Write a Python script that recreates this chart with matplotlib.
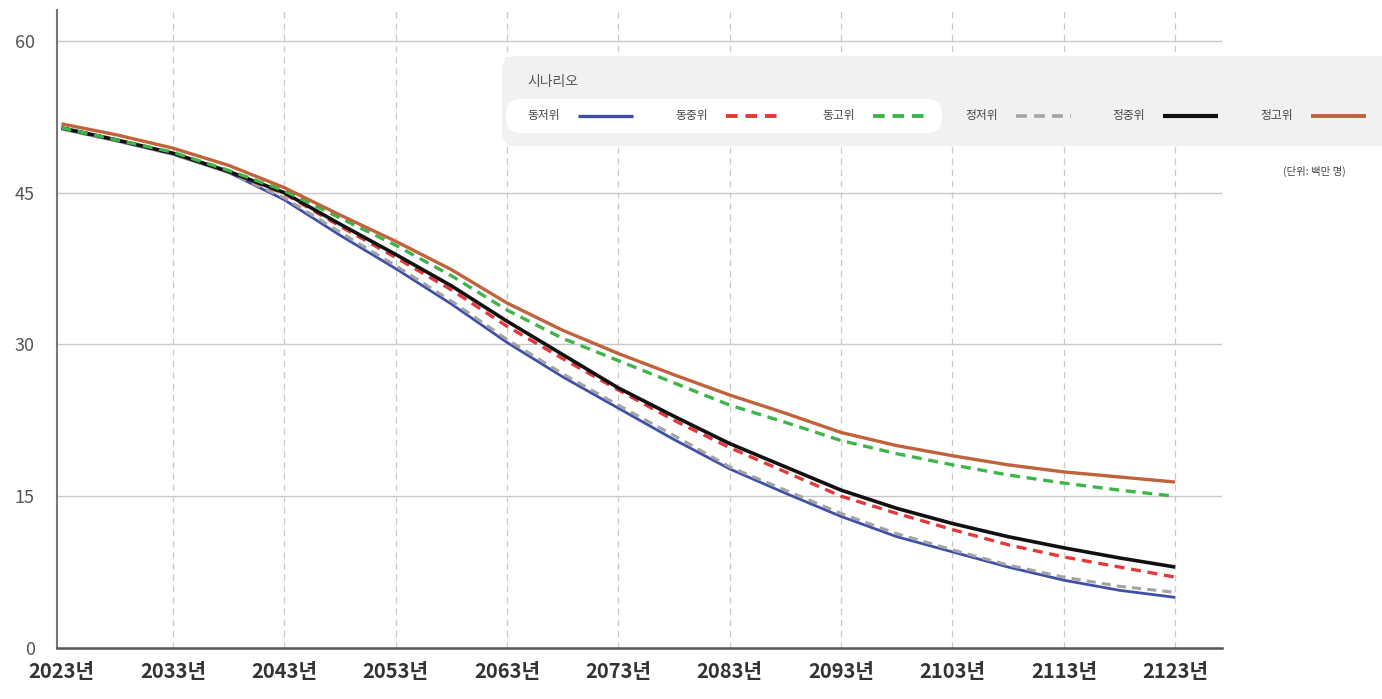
import numpy as np
import matplotlib
matplotlib.use("Agg")
import matplotlib.pyplot as plt
from matplotlib.patches import FancyBboxPatch
from matplotlib.lines import Line2D

plt.rcParams['font.family'] = ['Noto Sans CJK KR', 'DejaVu Sans']

# 5-year points, values in millions of people
years = [2023, 2028, 2033, 2038, 2043, 2048, 2053, 2058, 2063, 2068, 2073,
         2078, 2083, 2088, 2093, 2098, 2103, 2108, 2113, 2118, 2123]
dong_low = [51.3, 50.1, 48.8, 47.0, 44.3, 40.8, 37.5, 34.0, 30.2, 26.8, 23.7,
            20.6, 17.7, 15.3, 13.0, 11.0, 9.5, 8.0, 6.7, 5.7, 5.0]
dong_mid = [51.4, 50.2, 48.9, 47.1, 44.9, 41.7, 38.6, 35.4, 31.8, 28.6, 25.5,
            22.5, 19.8, 17.4, 15.0, 13.3, 11.7, 10.2, 9.0, 8.0, 7.0]
dong_high = [51.4, 50.2, 49.0, 47.2, 45.2, 42.5, 39.8, 36.8, 33.4, 30.6, 28.4,
             26.2, 24.0, 22.3, 20.5, 19.2, 18.1, 17.1, 16.3, 15.6, 15.0]
jung_low = [51.3, 50.1, 48.8, 47.0, 44.5, 41.1, 37.8, 34.3, 30.5, 27.1, 24.0,
            21.0, 17.9, 15.6, 13.3, 11.3, 9.7, 8.2, 7.0, 6.1, 5.5]
jung_mid = [51.4, 50.2, 48.9, 47.1, 45.0, 41.9, 38.9, 35.8, 32.3, 29.0, 25.7,
            22.9, 20.2, 17.9, 15.6, 13.8, 12.3, 11.0, 9.9, 8.9, 8.0]
jung_high = [51.8, 50.7, 49.4, 47.7, 45.5, 42.8, 40.2, 37.4, 34.1, 31.4, 29.1,
             27.0, 25.0, 23.2, 21.3, 20.0, 19.0, 18.1, 17.4, 16.9, 16.4]

tick_years = list(range(2023, 2124, 10))
tick_labels = [f'{y}년' for y in tick_years]
y_ticks = [0, 15, 30, 45, 60]

names = ['동저위', '동중위', '동고위', '정저위', '정중위', '정고위']
colors = ['#3f4fa8', '#e5383b', '#3db54a', '#a3a3a3', '#111111', '#c0623c']

fig = plt.figure(figsize=(13.82, 6.99), dpi=100)
ax = fig.add_axes([57 / 1382, 1 - 648 / 699, (1222 - 57) / 1382, (648 - 10) / 699])

styles = {
    '동저위': dict(lw=2.0, ls='-'),
    '정저위': dict(lw=2.2, ls=(0, (3, 2))),
    '동중위': dict(lw=2.4, ls=(0, (3, 2))),
    '정중위': dict(lw=2.6, ls='-'),
    '동고위': dict(lw=2.4, ls=(0, (3, 2))),
    '정고위': dict(lw=2.4, ls='-'),
}
series = {'동저위': dong_low, '동중위': dong_mid, '동고위': dong_high,
          '정저위': jung_low, '정중위': jung_mid, '정고위': jung_high}
for name in ['동저위', '정저위', '동중위', '정중위', '동고위', '정고위']:
    c = colors[names.index(name)]
    ax.plot(years, series[name], color=c, solid_capstyle='butt',
            solid_joinstyle='round', **styles[name])

ax.set_xlim(2022.6, 2127.2)
ax.set_ylim(0, 63.05)
ax.set_xticks(tick_years)
ax.set_xticklabels(tick_labels, fontsize=14.5, fontweight='bold', color='#333333')
ax.set_yticks(y_ticks)
ax.set_yticklabels([str(v) for v in y_ticks], fontsize=13, color='#555555')
ax.tick_params(length=0, pad=9)
ax.tick_params(axis='y', pad=16)
for v in y_ticks[1:]:
    ax.axhline(v, color='#c8c8c8', lw=1.0, zorder=0)
for x in tick_years[1:]:
    ax.axvline(x, color='#c8c8c8', lw=0.9, ls=(0, (5, 4)), zorder=0)
for s in ['top', 'right']:
    ax.spines[s].set_visible(False)
ax.spines['left'].set_color('#777777')
ax.spines['bottom'].set_color('#555555')
ax.spines['left'].set_linewidth(1.5)
ax.spines['bottom'].set_linewidth(1.8)

# legend overlay in pixel coordinates
ov = fig.add_axes([0, 0, 1, 1], zorder=5)
ov.set_xlim(0, 1382)
ov.set_ylim(699, 0)
ov.axis('off')
ov.add_patch(FancyBboxPatch((502, 56), 900, 90, boxstyle='round,pad=0,rounding_size=14',
                            fc='#f1f1f1', ec='none'))
ov.add_patch(FancyBboxPatch((506, 99), 436, 34, boxstyle='round,pad=0,rounding_size=14',
                            fc='#ffffff', ec='none'))
ov.text(527, 82, '시나리오', fontsize=10, color='#555555', va='center')
leg_x = [527, 675, 822, 965, 1112, 1260]
for i, name in enumerate(names):
    ov.text(leg_x[i], 116, name, fontsize=8.5, color='#444444', va='center')
    st = styles[name]
    ov.add_line(Line2D([leg_x[i] + 51, leg_x[i] + 106], [116, 116], color=colors[i],
                       lw=st['lw'] + 0.4, ls=st['ls'], solid_capstyle='butt'))
ov.text(1283, 171, '(단위: 백만 명)', fontsize=7.5, color='#444444', va='center')

fig.savefig('out.png', dpi=100)
